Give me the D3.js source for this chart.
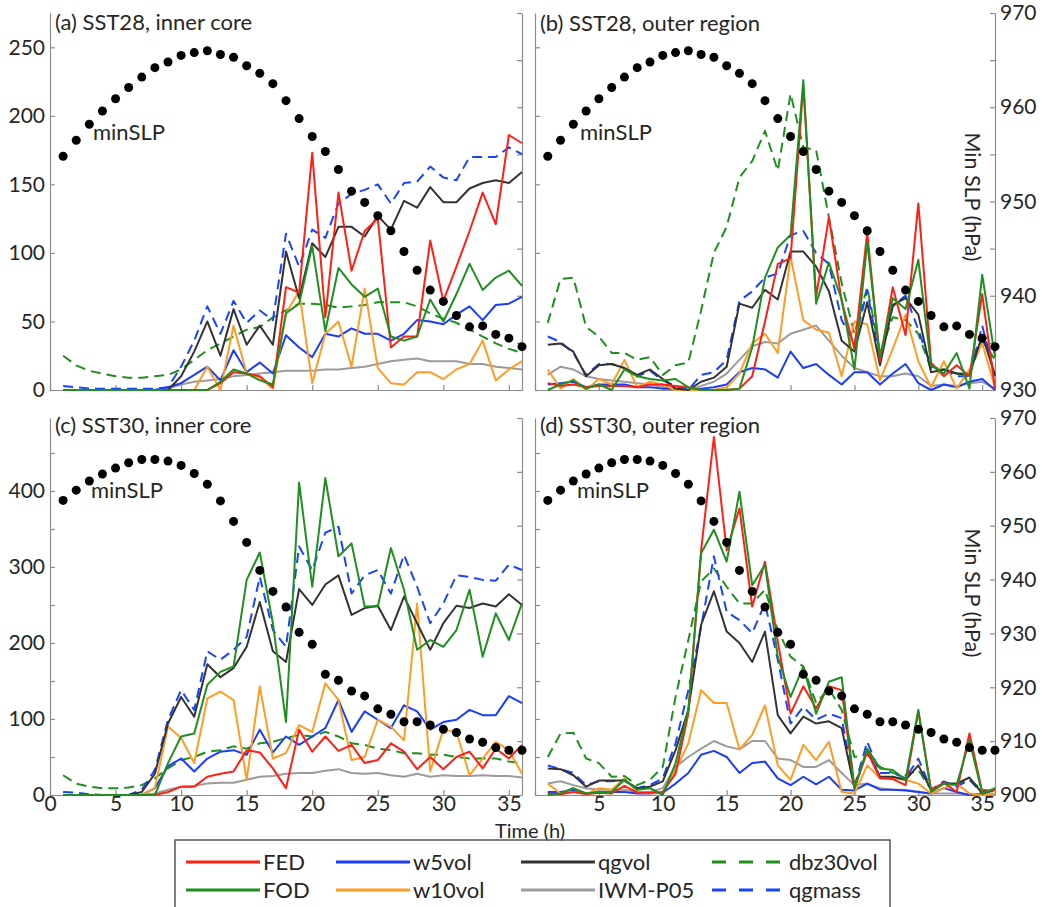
<!DOCTYPE html>
<html>
<head>
<meta charset="utf-8">
<script src="https://cdn.jsdelivr.net/npm/d3@7"></script>
<style>
    body { margin: 0; background: #fff; }
    text { font-family: Lato, "Open Sans", sans-serif; fill: #262626; }
    .axis path, .axis line { stroke: #8c8c8c; stroke-width: 1.2px; }
    .axis text { font-size: 21px; fill: #262626; }
    .title { font-size: 22px; }
    .minslp { font-size: 22px; }
    .ylabel { font-size: 21.5px; }
    .legend { font-size: 22px; }
    .series { fill: none; stroke-width: 2px; stroke-linejoin: round; }
</style>
</head>
<body>
<svg id="chart" width="1061" height="907"></svg>
<script>
// time of each sample (h)
const hours = [1,2,3,4,5,6,7,8,9,10,11,12,13,14,15,16,17,18,19,20,21,22,23,24,25,26,27,28,29,30,31,32,33,34,35,36];

// minimum sea level pressure (hPa)
const slp28 = [954.8,956.5,958.2,959.6,960.9,962.1,963.2,964.2,964.8,965.5,965.8,966.0,965.6,965.3,964.4,963.6,962.5,960.7,958.8,956.9,955.3,953.4,951.1,949.9,948.5,946.9,944.7,942.7,940.6,939.4,937.9,936.7,936.8,935.9,935.5,934.6];
const slp30 = [954.7,956.6,958.3,959.6,960.7,961.7,962.3,962.3,962.0,961.2,959.7,957.7,954.6,950.8,946.9,941.7,937.8,934.9,930.2,928.0,922.4,921.3,919.3,918.4,916.0,915.0,913.6,913.6,913.0,912.2,911.6,910.4,909.8,908.8,908.3,908.3];

// (a) SST28, inner core
const fedA = [0,0,0,0,0,0,0,0,0,0,0,0,5,13,12,10,2,75,71,173,53,144,87,116,125,31,39,39,109,65,90,116,144,121,186,180];
const fodA = [0,0,0,0,0,0,0,0,0,0,0,0,6,15,12,7,4,56,63,105,43,89,77,68,74,39,36,39,66,50,70,92,73,82,87,76];
const w5A = [0,0,0,0,0,0,0,0,2,5,11,17,7,29,13,20,12,40,31,24,41,39,45,41,41,36,41,51,50,48,55,61,51,62,63,68];
const w10A = [0,0,0,0,0,0,0,0,0,0,0,17,0,47,12,9,1,56,72,5,41,50,17,74,16,5,4,13,13,8,15,19,36,7,15,21];
const qgvolA = [0,0,0,0,0,0,0,0,0,10,28,50,25,59,33,47,33,101,67,107,97,119,119,112,127,117,138,133,148,137,137,147,151,153,151,159];
const iwmA = [0,0,0,0,0,0,0,0,1,4,6,7,8,10,11,12,13,14,14,14,15,15,16,17,19,21,22,23,21,21,21,19,19,17,16,15];
const dbzA = [25,18,14,12,10,9,9,10,11,15,22,29,34,39,44,46,53,58,63,63,62,60,61,62,64,64,64,61,56,52,49,44,39,34,30,27];
const qgmassA = [3,2,1,1,1,1,1,1,2,17,36,61,41,65,49,58,51,114,90,117,111,136,143,146,150,136,151,152,163,155,153,170,170,170,177,172];

// (b) SST28, outer region
const fedB = [5,3,4,2,3,3,3,2,4,4,3,2,0,0,0,1,10,50,92,96,222,68,126,65,30,115,21,75,40,136,20,10,18,10,70,1];
const fodB = [0,4,7,1,4,0,15,10,8,7,8,2,0,0,0,1,31,82,104,113,226,63,93,66,15,108,24,67,59,95,18,12,27,1,84,24];
const w5B = [4,5,6,2,4,4,4,2,2,1,1,0,1,2,4,13,16,15,9,28,16,19,11,4,13,13,4,12,19,5,0,4,2,6,8,0];
const w10B = [15,1,8,0,8,4,22,2,6,4,0,0,0,0,2,12,34,41,27,97,51,44,42,10,50,48,7,30,55,21,2,21,1,15,34,2];
const qgvolB = [33,34,28,10,18,19,16,11,15,8,1,0,6,9,17,63,60,73,66,101,101,90,72,36,28,64,18,62,67,55,13,15,12,11,40,11];
const iwmB = [11,17,15,10,8,7,6,5,4,2,1,0,3,6,12,22,32,35,34,41,44,47,36,25,16,13,10,10,12,10,3,4,3,5,6,1];
const dbzB = [49,81,82,46,39,27,27,22,24,11,18,20,58,100,119,155,167,189,160,216,177,175,126,78,41,75,27,53,51,41,15,15,12,12,36,22];
const qgmassB = [39,35,27,11,19,19,16,10,14,7,3,0,11,13,22,65,72,82,85,113,116,100,92,51,34,73,21,61,69,44,17,15,10,10,47,10];

// (c) SST30, inner core
const fedC = [0,0,0,0,0,0,0,0,4,11,11,24,28,31,59,56,35,9,86,57,77,58,66,42,46,68,57,34,50,34,50,57,35,61,48,66];
const fodC = [0,0,0,0,0,0,0,0,42,77,81,145,162,169,283,319,226,96,411,274,417,314,331,248,248,325,270,191,204,195,217,270,182,239,204,252];
const w5C = [0,0,0,0,0,0,0,9,38,48,31,48,57,59,53,86,56,77,66,77,88,125,83,110,99,88,118,110,86,96,99,112,105,105,130,121];
const w10C = [0,0,0,0,0,0,0,9,90,75,42,127,136,125,20,143,48,55,92,83,147,125,46,50,99,90,72,252,31,86,83,26,48,70,59,28];
const qgvolC = [0,0,0,0,0,0,4,28,94,129,103,172,155,167,195,254,189,175,271,250,277,289,237,246,249,217,261,226,191,226,249,246,252,248,264,250];
const iwmC = [0,0,0,0,0,0,0,2,7,11,12,15,16,16,20,24,25,28,29,29,32,34,29,28,29,26,24,28,24,26,25,25,26,25,25,23];
const dbzC = [26,15,11,9,9,10,13,22,35,46,50,57,59,64,61,68,70,75,79,77,83,77,68,66,61,59,55,55,53,53,50,48,48,48,44,42];
const qgmassC = [4,3,1,0,0,0,7,33,99,138,112,189,178,191,208,287,217,195,327,296,345,353,265,289,296,265,316,274,226,252,289,287,283,282,303,296];

// (d) SST30, outer region
const fedD = [2,1,4,1,3,2,12,3,3,4,28,107,322,471,322,377,248,307,202,107,143,114,143,138,9,57,22,21,13,110,7,16,4,81,4,7];
const fodD = [0,2,9,2,4,4,20,7,9,0,42,112,318,349,307,399,276,303,182,129,169,107,149,155,9,61,35,33,20,112,4,15,13,72,2,9];
const w5D = [4,4,7,2,4,4,4,2,2,3,15,29,53,58,50,29,42,44,22,13,24,14,24,7,6,15,7,7,6,4,2,9,4,0,2,7];
const w10D = [15,2,9,1,9,7,22,4,2,4,33,68,138,121,121,60,79,118,39,20,66,46,70,4,2,39,22,22,20,15,2,9,15,2,0,2];
const qgvolD = [35,34,26,11,19,19,19,9,11,18,59,112,224,268,215,200,175,215,105,81,103,94,97,88,9,59,24,24,20,39,7,15,15,23,2,7];
const iwmD = [15,18,13,9,7,7,7,4,4,9,37,50,61,71,64,60,71,71,48,46,37,37,46,29,13,15,9,7,7,4,2,2,2,1,0,1];
const dbzD = [50,81,82,48,42,24,25,13,20,37,129,204,281,298,274,252,252,270,217,182,169,121,140,112,50,53,37,29,26,33,7,15,13,20,7,4];
const qgmassD = [39,34,29,13,18,18,19,9,13,22,68,138,221,314,241,230,213,252,178,94,116,99,107,101,11,70,29,29,22,48,7,18,11,20,2,9];

// tick labels
const timeTicks = [0,5,10,15,20,25,30,35];
const countTicks28 = [0,50,100,150,200,250];
const countTicks30 = [0,50,100,150,200,250,300,350,400,450];
const slpTicks28 = [930,935,940,945,950,955,960,965,970];
const slpTicks30 = [900,910,920,930,940,950,960,970];

const seriesNames = ["FED","w5vol","qgvol","dbz30vol","FOD","w10vol","IWM-P05","qgmass"];
const seriesStyle = {
    "FED":      {color: "#ff1f14", dash: null},
    "FOD":      {color: "#1f8f1f", dash: null},
    "w5vol":    {color: "#1a3dff", dash: null},
    "w10vol":   {color: "#ff9c24", dash: null},
    "qgvol":    {color: "#333333", dash: null},
    "IWM-P05":  {color: "#9b9b9b", dash: null},
    "dbz30vol": {color: "#1f8f1f", dash: "10,6"},
    "qgmass":   {color: "#1a43ff", dash: "10,6"}
};
// back to front
const drawOrder = ["dbz30vol","qgmass","IWM-P05","w5vol","w10vol","qgvol","FED","FOD"];

const panels = [
    {title: "(a) SST28, inner core", left: 50, right: 522, top: 13, bottom: 390, cmax: 275, smin: 930,
     slp: slp28, cTicks: countTicks28, sTicks: slpTicks28, cLabel: d => d, sLabel: d => "", tLabel: null,
     minX: 93, minY: 140, titleY: 30, ylab: false, ylabY: 0,
     data: {"FED": fedA, "FOD": fodA, "w5vol": w5A, "w10vol": w10A, "qgvol": qgvolA, "IWM-P05": iwmA, "dbz30vol": dbzA, "qgmass": qgmassA}},
    {title: "(b) SST28, outer region", left: 535, right: 995, top: 13, bottom: 390, cmax: 275, smin: 930,
     slp: slp28, cTicks: countTicks28, sTicks: slpTicks28, cLabel: d => "", sLabel: d => d % 10 === 0 ? d : "", tLabel: null,
     minX: 580, minY: 140, titleY: 31, ylab: true, ylabY: 197,
     data: {"FED": fedB, "FOD": fodB, "w5vol": w5B, "w10vol": w10B, "qgvol": qgvolB, "IWM-P05": iwmB, "dbz30vol": dbzB, "qgmass": qgmassB}},
    {title: "(c) SST30, inner core", left: 50, right: 522, top: 418, bottom: 795, cmax: 496, smin: 900,
     slp: slp30, cTicks: countTicks30, sTicks: slpTicks30, cLabel: d => d % 100 === 0 ? d : "", sLabel: d => "", tLabel: d => d,
     minX: 91, minY: 498, titleY: 433, ylab: false, ylabY: 0,
     data: {"FED": fedC, "FOD": fodC, "w5vol": w5C, "w10vol": w10C, "qgvol": qgvolC, "IWM-P05": iwmC, "dbz30vol": dbzC, "qgmass": qgmassC}},
    {title: "(d) SST30, outer region", left: 535, right: 995, top: 418, bottom: 795, cmax: 496, smin: 900,
     slp: slp30, cTicks: countTicks30, sTicks: slpTicks30, cLabel: d => "", sLabel: d => d, tLabel: d => d === 0 ? "" : d,
     minX: 577, minY: 498, titleY: 433, ylab: true, ylabY: 593,
     data: {"FED": fedD, "FOD": fodD, "w5vol": w5D, "w10vol": w10D, "qgvol": qgvolD, "IWM-P05": iwmD, "dbz30vol": dbzD, "qgmass": qgmassD}}
];

let svg = d3.select("#chart");

function drawPanel(p){
    let g = svg.append("g");
    let xScale = d3.scaleLinear().domain([0,36]).range([p.left, p.right]);
    let cScale = d3.scaleLinear().domain([0,p.cmax]).range([p.bottom, p.top]);
    let sScale = d3.scaleLinear().domain([p.smin,970]).range([p.bottom, p.top]);

    let xAxis = d3.axisBottom(xScale).tickValues(timeTicks).tickSize(-5).tickSizeOuter(0).tickPadding(1)
        .tickFormat(p.tLabel ? p.tLabel : d => "");
    g.append("g").attr("class", "axis").attr("transform", "translate(0," + p.bottom + ")").call(xAxis);

    let yAxis = d3.axisLeft(cScale).tickValues(p.cTicks).tickSize(-5).tickSizeOuter(0).tickPadding(5)
        .tickFormat(p.cLabel);
    g.append("g").attr("class", "axis").attr("transform", "translate(" + p.left + ",0)").call(yAxis);

    let sAxis = d3.axisRight(sScale).tickValues(p.sTicks).tickSize(-5).tickSizeOuter(0).tickPadding(5)
        .tickFormat(p.sLabel);
    g.append("g").attr("class", "axis").attr("transform", "translate(" + p.right + ",0)").call(sAxis);

    let lineGenerator = d3.line()
        .x((d, i) => xScale(hours[i]))
        .y(d => cScale(d));
    drawOrder.forEach(name => {
        g.append("path").attr("class", "series")
            .attr("d", lineGenerator(p.data[name]))
            .attr("stroke", seriesStyle[name].color)
            .attr("stroke-dasharray", seriesStyle[name].dash);
    });

    g.selectAll("circle").data(p.slp).join("circle")
        .attr("cx", (d, i) => xScale(hours[i]))
        .attr("cy", d => sScale(d))
        .attr("r", 4.5)
        .attr("fill", "#000");

    g.append("text").attr("class", "title").attr("x", p.left + 5).attr("y", p.titleY).text(p.title);
    g.append("text").attr("class", "minslp").attr("x", p.minX).attr("y", p.minY).text("minSLP");

    if(p.ylab){
        g.append("text").attr("class", "ylabel")
            .attr("transform", "translate(" + (p.right - 30) + "," + p.ylabY + ") rotate(90)")
            .attr("text-anchor", "middle")
            .text("Min SLP (hPa)");
    }
}

panels.forEach(drawPanel);

svg.append("text").attr("x", 530).attr("y", 838)
    .attr("text-anchor", "middle").style("font-size", "20px").text("Time (h)");

// legend
let lg = svg.append("g");
lg.append("rect").attr("x", 175).attr("y", 840).attr("width", 715).attr("height", 90)
    .attr("fill", "none").attr("stroke", "#555").attr("stroke-width", 1.5);
const legendCols = [186, 336, 521, 712];
const legendRows = [862, 890];
seriesNames.forEach((name, i) => {
    let x = legendCols[i % 4], y = legendRows[Math.floor(i / 4)];
    lg.append("line").attr("x1", x).attr("x2", x + 74).attr("y1", y).attr("y2", y)
        .attr("stroke", seriesStyle[name].color).attr("stroke-width", 3)
        .attr("stroke-dasharray", seriesStyle[name].dash ? "14,13" : null);
    lg.append("text").attr("class", "legend").attr("x", x + 77).attr("y", y + 8).text(name);
});
</script>
</body>
</html>
